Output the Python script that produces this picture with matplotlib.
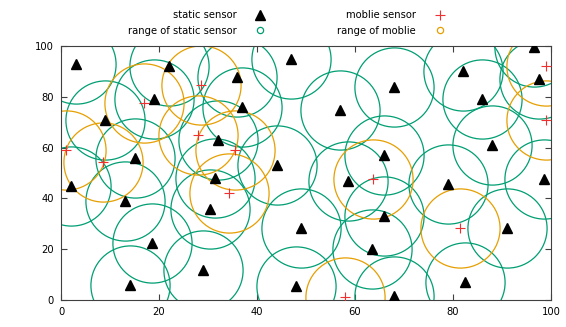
import numpy as np
import matplotlib.pyplot as plt
from matplotlib.lines import Line2D

# static sensors (x, y)
static_x = [3, 22, 19, 9, 15, 32, 47, 36, 37, 57, 44, 96.5, 82, 68, 86, 97.5, 88, 66,
            2, 13, 31.5, 30.5, 18.5, 29, 14, 58.5, 49, 48, 63.5, 79, 98.5, 91, 82.5, 68, 66]
static_y = [93, 92, 79, 71, 56, 63, 95, 88, 76, 75, 53, 99.5, 90, 84, 79, 87, 61, 57,
            45, 39, 48, 36, 22.5, 12, 6, 47, 28.5, 5.5, 20, 45.5, 47.5, 28.5, 7, 1.5, 33]

# mobile sensors
mobile_x = [28.5, 17, 28, 1, 8.5, 35.5, 34.3, 63.7, 58, 99, 99, 81.4]
mobile_y = [84.5, 77.5, 65, 59, 54.5, 59, 42, 47.5, 1, 92, 71, 28.5]

green = '#009e73'
orange = '#e69f00'
red = '#f03030'

fig = plt.figure(figsize=(5.66, 3.27), dpi=100)
ax = fig.add_axes([0.1078, 0.0826, 0.8657, 0.7764])

ring = 57
ax.plot(static_x, static_y, 'o', ms=ring, mfc='none', mec=green, mew=0.9, zorder=2)
ax.plot(mobile_x, mobile_y, 'o', ms=ring, mfc='none', mec=orange, mew=0.9, zorder=2)
ax.plot(static_x, static_y, '^', ms=7.5, color='black', zorder=3)
ax.plot(mobile_x, mobile_y, '+', ms=6.5, mew=0.8, color=red, zorder=3)

ax.set_xlim(0, 100)
ax.set_ylim(0, 100)
ax.set_xticks(np.arange(0, 101, 20))
ax.set_yticks(np.arange(0, 101, 20))
ax.tick_params(direction='in', length=4, width=0.8, top=True, right=True,
               labelsize=7.2, colors='#404040', labelcolor='black', pad=5)
for s in ax.spines.values():
    s.set_color('#404040')
    s.set_linewidth(0.8)

handles = [
    Line2D([], [], ls='none', marker='^', ms=7.5, color='black'),
    Line2D([], [], ls='none', marker='o', ms=4.5, mfc='none', mec=green, mew=0.9),
    Line2D([], [], ls='none', marker='+', ms=6.5, mew=0.8, color=red),
    Line2D([], [], ls='none', marker='o', ms=4.5, mfc='none', mec=orange, mew=0.9),
]
labels = ['static sensor', 'range of static sensor', 'moblie sensor', 'range of moblie']
fig.legend(handles, labels, ncol=2, markerfirst=False, frameon=False,
           loc='upper right', bbox_to_anchor=(0.806, 0.996), fontsize=7.2,
           handlelength=1.5, handletextpad=1.6, columnspacing=7.0, labelspacing=0.55)

fig.savefig('out.png', dpi=100)
